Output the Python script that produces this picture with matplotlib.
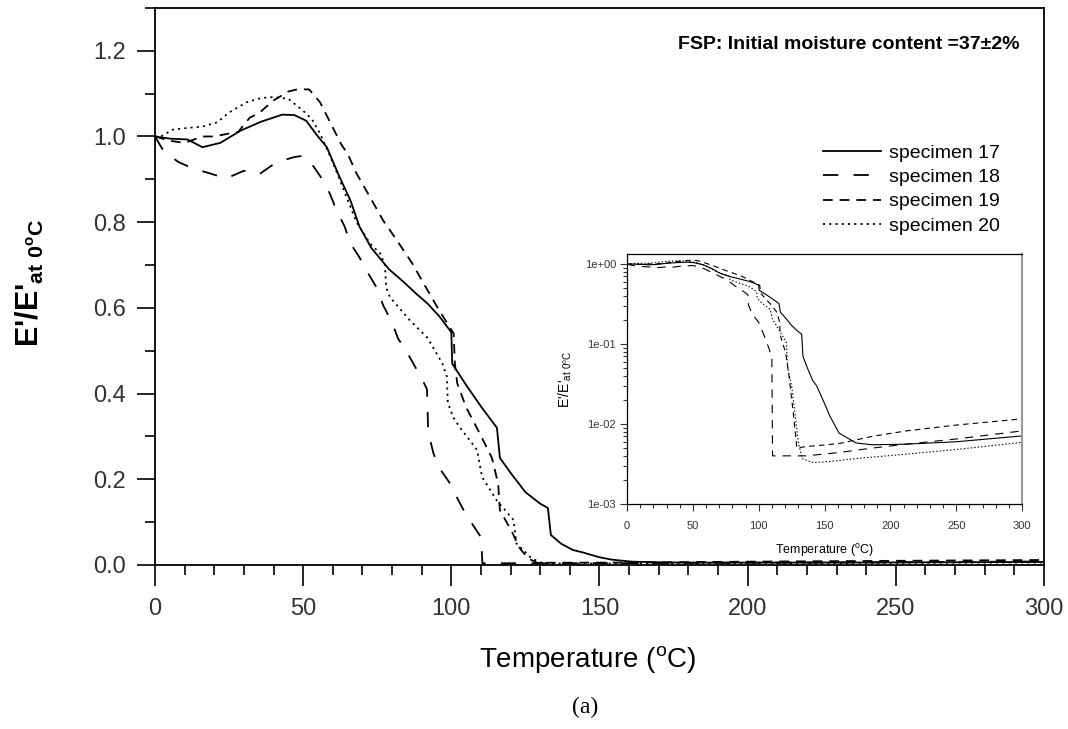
import matplotlib
matplotlib.use("Agg")
import matplotlib.pyplot as plt
from matplotlib.ticker import MultipleLocator, FormatStrFormatter, FuncFormatter, LogLocator, NullFormatter

plt.rcParams['font.family'] = ['Liberation Sans', 'DejaVu Sans']
plt.rcParams['mathtext.fontset'] = 'custom'
plt.rcParams['mathtext.rm'] = 'Liberation Sans'
plt.rcParams['lines.scale_dashes'] = False

# specimen 17 (solid)
t17 = [0, 5, 11, 16, 22, 29, 36, 43, 47, 51, 55, 58, 62, 66, 69, 73, 79, 84, 88, 92, 96, 100,
       100.3, 105, 110, 115.4, 116.4, 120, 125, 130, 132.6, 133.6, 137, 141, 144, 150, 154, 161,
       174, 186, 212, 250, 300]
e17 = [1.0, 0.995, 0.993, 0.975, 0.985, 1.014, 1.035, 1.051, 1.05, 1.037, 1.0, 0.975, 0.91, 0.85,
       0.79, 0.74, 0.69, 0.66, 0.634, 0.61, 0.58, 0.543,
       0.47, 0.42, 0.37, 0.32, 0.25, 0.215, 0.17, 0.143, 0.133, 0.07, 0.05, 0.035, 0.030, 0.018,
       0.0126, 0.0077, 0.0058, 0.0055, 0.0056, 0.006, 0.0071]

# specimen 18 (long dash)
t18 = [0, 3, 8, 13, 18, 24, 30, 35, 41, 47, 50, 53, 56, 59, 61, 64, 66, 69, 72, 75, 77, 80, 82,
       85, 88, 90.4, 91.8, 92.2, 94, 96, 100, 102, 105, 108, 110, 110.5, 120, 136, 161, 186, 212,
       250, 300]
e18 = [1.0, 0.965, 0.94, 0.925, 0.915, 0.902, 0.92, 0.911, 0.94, 0.952, 0.955, 0.935, 0.905,
       0.867, 0.832, 0.79, 0.75, 0.718, 0.68, 0.645, 0.606, 0.566, 0.529, 0.497, 0.46, 0.43,
       0.41, 0.31, 0.26, 0.226, 0.186, 0.156, 0.117, 0.086, 0.065, 0.004, 0.004, 0.004, 0.0044,
       0.005, 0.0056, 0.0065, 0.0082]

# specimen 19 (medium dash)
t19 = [0, 5, 10, 16, 20, 25, 28, 32, 35, 40, 45, 48, 52, 55.7, 59.7, 63, 65, 68, 72.6, 77, 81.6,
       86.8, 91, 95.5, 100.8, 101.2, 102, 105, 109, 113.7, 115.8, 116.4, 120.5, 123, 126, 129,
       135, 161, 186, 212, 250, 300]
e19 = [1.0, 0.99, 0.985, 1.0, 1.0, 1.007, 1.01, 1.044, 1.054, 1.084, 1.105, 1.11, 1.11, 1.08,
       1.025, 0.98, 0.96, 0.914, 0.858, 0.804, 0.758, 0.704, 0.653, 0.599, 0.54, 0.47, 0.424,
       0.368, 0.315, 0.25, 0.19, 0.128, 0.077, 0.04, 0.015, 0.005, 0.0052, 0.0057, 0.007, 0.0082,
       0.0097, 0.0116]

# specimen 20 (dotted)
t20 = [0, 2, 6, 11, 16, 21, 25, 31, 36, 40, 45, 50, 53, 55.7, 60, 64, 68, 72.6, 76, 77.6, 78,
       79.3, 86, 92, 97, 98.5, 98.8, 100.6, 103, 107, 108.7, 110.4, 115.4, 121, 122, 125, 127,
       130, 133, 141, 154, 174, 212, 250, 300]
e20 = [1.0, 1.0, 1.016, 1.02, 1.023, 1.033, 1.056, 1.08, 1.09, 1.092, 1.088, 1.06, 1.04, 1.007,
       0.94, 0.87, 0.80, 0.75, 0.727, 0.70, 0.648, 0.625, 0.571, 0.53, 0.47, 0.44, 0.38, 0.345,
       0.32, 0.284, 0.268, 0.205, 0.15, 0.105, 0.05, 0.03, 0.016, 0.006, 0.0037, 0.0033, 0.0034,
       0.0037, 0.0042, 0.0048, 0.0059]

labels = ['specimen 17', 'specimen 18', 'specimen 19', 'specimen 20']

fig = plt.figure(figsize=(10.68, 7.29), dpi=100)
ax = fig.add_axes([0.1451, 0.2250, 0.8324, 0.7641])

styles = [dict(ls='-'), dict(dashes=(11, 11)), dict(dashes=(7, 5)), dict(dashes=(1.5, 3))]
series = [(t17, e17), (t18, e18), (t19, e19), (t20, e20)]
for (t, e), st, lab in zip(series, styles, labels):
    ax.plot(t, e, color='black', lw=1.3, label=lab, **st)

ax.set_xlim(0, 300)
ax.set_ylim(0, 1.3)
ax.xaxis.set_major_locator(MultipleLocator(50))
ax.xaxis.set_minor_locator(MultipleLocator(10))
ax.yaxis.set_major_locator(MultipleLocator(0.2))
ax.yaxis.set_minor_locator(MultipleLocator(0.1))
ax.yaxis.set_major_formatter(FormatStrFormatter('%.1f'))
ax.tick_params(which='both', direction='out', width=1.2, labelsize=17, colors='black')
ax.tick_params(axis='x', which='major', length=15, pad=9)
ax.tick_params(axis='x', which='minor', length=7)
ax.tick_params(axis='y', which='major', length=13, pad=8)
ax.tick_params(axis='y', which='minor', length=7)
for s in ax.spines.values():
    s.set_linewidth(1.3)
for lab in ax.get_xticklabels() + ax.get_yticklabels():
    lab.set_color('#333333')

ax.text(0.973, 0.934, 'FSP: Initial moisture content =37±2%', transform=ax.transAxes,
        ha='right', va='center', fontsize=14, fontweight='bold')

leg = ax.legend(loc='upper right', bbox_to_anchor=(1000 / 1068, 1 - 144 / 729),
                bbox_transform=fig.transFigure, frameon=False, fontsize=14,
                handlelength=3.0, handletextpad=0.4, labelspacing=0.35,
                borderpad=0, borderaxespad=0)

fig.text(30 / 1068, 1 - 283 / 729, "E'/E'$_{\\mathregular{at\\ 0^oC}}$", rotation=90,
         ha='center', va='center', fontsize=22, fontweight='bold')
fig.text(588 / 1068, 1 - 660 / 729, 'Temperature ($^{\\mathregular{o}}$C)', ha='center',
         va='center', fontsize=20)
fig.text(585 / 1068, 1 - 707 / 729, '(a)', ha='center', va='center', fontsize=17,
         family=['Liberation Serif', 'DejaVu Serif'])

# inset, log scale
ins = fig.add_axes([0.5871, 0.3086, 0.3699, 0.3429])
ins.set_facecolor('white')
ins_styles = [dict(ls='-'), dict(dashes=(6, 5)), dict(dashes=(4, 3)), dict(dashes=(1, 1.5))]
for (t, e), st in zip(series, ins_styles):
    ins.plot(t, e, color='black', lw=0.8, **st)
ins.set_yscale('log')
ins.set_xlim(0, 300)
ins.set_ylim(1e-3, 1.33)
ins.xaxis.set_major_locator(MultipleLocator(50))
ins.xaxis.set_minor_locator(MultipleLocator(10))
ins.yaxis.set_major_locator(LogLocator(base=10, numticks=10))
ins.yaxis.set_minor_locator(LogLocator(base=10, subs=range(2, 10), numticks=20))
ins.yaxis.set_minor_formatter(NullFormatter())
ins.yaxis.set_major_formatter(FuncFormatter(lambda v, p: '%.0e' % v))
ins.tick_params(which='both', direction='out', width=0.8, labelsize=8, colors='#333333')
ins.tick_params(which='major', length=5, pad=3)
ins.tick_params(axis='x', which='major', pad=7)
ins.tick_params(which='minor', length=3)
for s in ins.spines.values():
    s.set_linewidth(0.9)
ins.spines['right'].set_color('#999999')
ins.spines['right'].set_linewidth(1.5)
ins.set_xlabel('Temperature ($^{\\mathregular{o}}$C)', fontsize=9, labelpad=8)
ins.set_ylabel("E'/E'$_{\\mathregular{at\\ 0^oC}}$", fontsize=10, labelpad=8)

fig.savefig('out.png', dpi=100)
